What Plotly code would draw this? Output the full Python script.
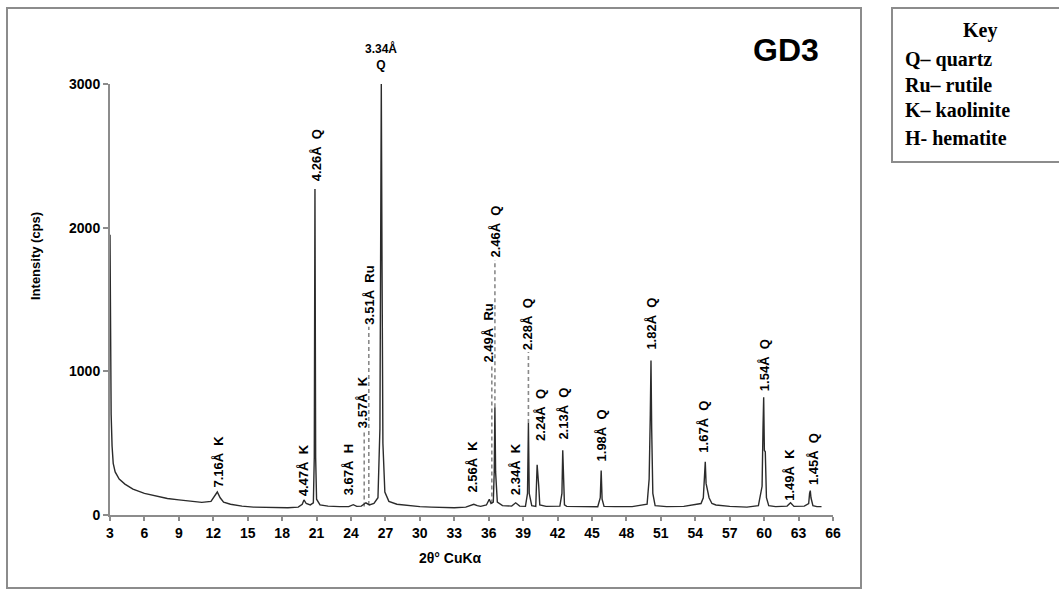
import plotly.graph_objects as go

# ---- diffractogram (2-theta in degrees, intensity in counts per second) ----
two_theta = [3.0, 3.04, 3.1, 3.18, 3.28, 3.45, 3.8, 4.3, 5.0, 6.0, 7.0, 8.0, 9.0, 10.0,
             11.0, 11.8, 12.1, 12.35, 12.6, 12.9, 13.5, 14.5, 15.5, 16.5, 17.5, 18.5,
             19.4, 19.75, 19.9, 20.1, 20.45, 20.72, 20.8, 20.86, 20.92, 21.0, 21.3,
             22.0, 23.0, 23.8, 24.2, 24.5, 24.9, 25.3, 25.6, 26.0, 26.35, 26.52, 26.58,
             26.64, 26.7, 26.78, 26.95, 27.3, 28.0, 29.0, 30.0, 31.0, 32.0, 33.0, 34.0,
             34.7, 35.0, 35.3, 35.8, 36.05, 36.2, 36.4, 36.48, 36.54, 36.6, 36.75, 37.2,
             38.0, 38.35, 38.7, 39.2, 39.38, 39.46, 39.53, 39.75, 40.1, 40.22, 40.3,
             40.36, 40.45, 41.0, 42.2, 42.38, 42.45, 42.52, 42.6, 42.8, 44.0, 45.5,
             45.72, 45.8, 45.88, 46.05, 47.0, 48.5, 49.8, 49.98, 50.08, 50.14, 50.2,
             50.3, 50.5, 51.5, 53.0, 54.0, 54.5, 54.7, 54.8, 54.87, 54.94, 55.05, 55.2,
             55.45, 55.8, 57.0, 58.5, 59.5, 59.82, 59.9, 59.96, 60.02, 60.1, 60.2, 60.4,
             61.0, 62.0, 62.3, 62.6, 63.5, 63.88, 63.96, 64.02, 64.08, 64.25, 64.6, 65.0]
counts = [1950, 1100, 700, 480, 360, 300, 250, 215, 180, 150, 130, 115, 105, 95,
          88, 95, 130, 160, 120, 90, 75, 62, 55, 52, 50, 50,
          55, 75, 105, 80, 70, 85, 400, 2270, 400, 110, 70,
          62, 58, 58, 72, 60, 62, 85, 70, 80, 120, 600, 1800,
          3000, 1800, 500, 160, 95, 75, 65, 58, 55, 52, 50, 55,
          75, 65, 60, 70, 110, 80, 90, 300, 750, 300, 90, 65,
          62, 85, 62, 60, 150, 640, 150, 65, 60, 350, 200,
          200, 70, 60, 62, 150, 450, 150, 70, 60, 58, 58,
          120, 310, 110, 60, 58, 58, 75, 250, 700, 1075, 600,
          150, 65, 58, 60, 70, 80, 120, 250, 370, 220, 180, 120,
          80, 70, 60, 55, 65, 200, 600, 820, 450, 440, 120, 65,
          58, 62, 85, 60, 62, 80, 150, 170, 120, 65, 58, 58]

# ---- peak annotations: d-spacing + mineral ----
NB = "\u00a0\u00a0"
peak_labels = ["7.16Å" + NB + "K", "4.47Å" + NB + "K", "4.26Å" + NB + "Q", "3.67Å" + NB + "H",
               "3.57Å" + NB + "K", "3.51Å" + NB + "Ru", "2.56Å" + NB + "K", "2.49Å" + NB + "Ru",
               "2.46Å" + NB + "Q", "2.34Å" + NB + "K", "2.28Å" + NB + "Q", "2.24Å" + NB + "Q",
               "2.13Å" + NB + "Q", "1.98Å" + NB + "Q", "1.82Å" + NB + "Q", "1.67Å" + NB + "Q",
               "1.54Å" + NB + "Q", "1.49Å" + NB + "K", "1.45Å" + NB + "Q"]
label_2theta = [12.45, 19.86, 20.95, 23.8, 24.95, 25.6, 34.6, 35.95, 36.6, 38.3, 39.45,
                40.45, 42.55, 45.8, 50.2, 54.76, 60.1, 62.25, 64.35]
label_base = [180, 120, 2310, 125, 590, 1310, 140, 1045, 1775, 125, 1135, 500, 510, 360,
              1135, 420, 850, 85, 195]

# dashed leaders joining weak or crowded reflections to their labels
leader_2theta = [25.15, 25.55, 36.27, 36.54, 39.46]
leader_from = [60, 70, 80, 750, 640]
leader_to = [590, 1310, 1045, 1775, 1135]

# strongest quartz reflection (label sits just above the top of the axis)
main_peak_label = "3.34Å<br>Q"
main_peak_2theta = 26.64
main_peak_counts = 3000

key_title = "Key"
key_lines = ["Q\u2013 quartz", "Ru\u2013 rutile", "K\u2013 kaolinite", "H- hematite"]
sample_name = "GD3"

W, H = 1059, 590
ML, MR, MT, MB = 110, 226, 84, 75
PW, PH = W - ML - MR, H - MT - MB


def fx(px):
    return (px - ML) / PW


def fy(py):
    return (H - MB - py) / PH


LABEL_FONT = dict(family="Liberation Sans Narrow, Liberation Sans, Arial", size=13,
                  color="black", weight="bold")
AXIS_FONT = dict(family="Liberation Sans, Arial", size=13, color="black", weight="bold")
TICK_FONT = dict(family="Liberation Sans, Arial", size=14, color="black", weight="bold")
KEY_FONT = dict(family="Liberation Serif, Times New Roman", size=20, color="black",
                weight="bold")

fig = go.Figure()

for x, lo, hi in zip(leader_2theta, leader_from, leader_to):
    fig.add_trace(go.Scatter(x=[x, x], y=[lo, hi], mode="lines",
                             line=dict(color="#8a8a8a", width=1.6, dash="4px,3px"),
                             hoverinfo="skip", showlegend=False))

fig.add_trace(go.Scatter(x=two_theta, y=counts, mode="lines",
                         line=dict(color="#2b2b2b", width=1.4),
                         showlegend=False, cliponaxis=False))

annotations = []
for txt, x, y in zip(peak_labels, label_2theta, label_base):
    annotations.append(dict(x=x, y=y, xref="x", yref="y", text=txt, showarrow=False,
                            textangle=-90, xanchor="center", yanchor="bottom",
                            font=LABEL_FONT))
annotations.append(dict(x=main_peak_2theta, y=main_peak_counts, xref="x", yref="y",
                        text=main_peak_label, showarrow=False, xanchor="center",
                        yanchor="bottom", yshift=10, font=dict(LABEL_FONT, size=12)))

# axis titles
annotations.append(dict(x=fx(35), y=fy(256), xref="paper", yref="paper",
                        text="Intensity (cps)", showarrow=False, textangle=-90,
                        xanchor="center", yanchor="middle", font=AXIS_FONT))
annotations.append(dict(x=fx(450), y=fy(558), xref="paper", yref="paper",
                        text="2θ° CuKα", showarrow=False, xanchor="center",
                        yanchor="middle", font=dict(AXIS_FONT, size=14)))

# sample name
annotations.append(dict(x=fx(786), y=fy(50), xref="paper", yref="paper",
                        text=sample_name, showarrow=False, xanchor="center",
                        yanchor="middle",
                        font=dict(family="Liberation Sans, Arial", size=32,
                                  color="black", weight="bold")))

# key box text
annotations.append(dict(x=fx(980), y=fy(30), xref="paper", yref="paper",
                        text=key_title, showarrow=False, xanchor="center",
                        yanchor="middle", font=KEY_FONT))
for line, py in zip(key_lines, [60, 85, 110, 138]):
    annotations.append(dict(x=fx(903), y=fy(py), xref="paper", yref="paper",
                            text=line, showarrow=False, xanchor="left",
                            yanchor="middle", font=KEY_FONT))

shapes = [
    dict(type="rect", xref="paper", yref="paper", x0=fx(7), x1=fx(861), y0=fy(588),
         y1=fy(8), line=dict(color="#8c8c8c", width=2), fillcolor="rgba(0,0,0,0)"),
    dict(type="rect", xref="paper", yref="paper", x0=fx(892), x1=fx(1068), y0=fy(162),
         y1=fy(8), line=dict(color="#8c8c8c", width=2), fillcolor="rgba(0,0,0,0)"),
]

fig.update_layout(
    width=W, height=H,
    margin=dict(l=ML, r=MR, t=MT, b=MB, pad=0),
    paper_bgcolor="white", plot_bgcolor="white",
    annotations=annotations, shapes=shapes,
    xaxis=dict(range=[3, 66], tick0=3, dtick=3, showgrid=False, zeroline=False,
               showline=True, linecolor="#8c8c8c", linewidth=2, ticks="outside",
               ticklen=4, tickwidth=1.5, tickcolor="#8c8c8c", tickfont=TICK_FONT),
    yaxis=dict(range=[0, 3000], dtick=1000, showgrid=False, zeroline=False,
               showline=True, linecolor="#8c8c8c", linewidth=2, ticks="outside",
               ticklen=5, tickwidth=1.5, tickcolor="#8c8c8c", tickfont=TICK_FONT),
)

fig.write_html("out.html")
